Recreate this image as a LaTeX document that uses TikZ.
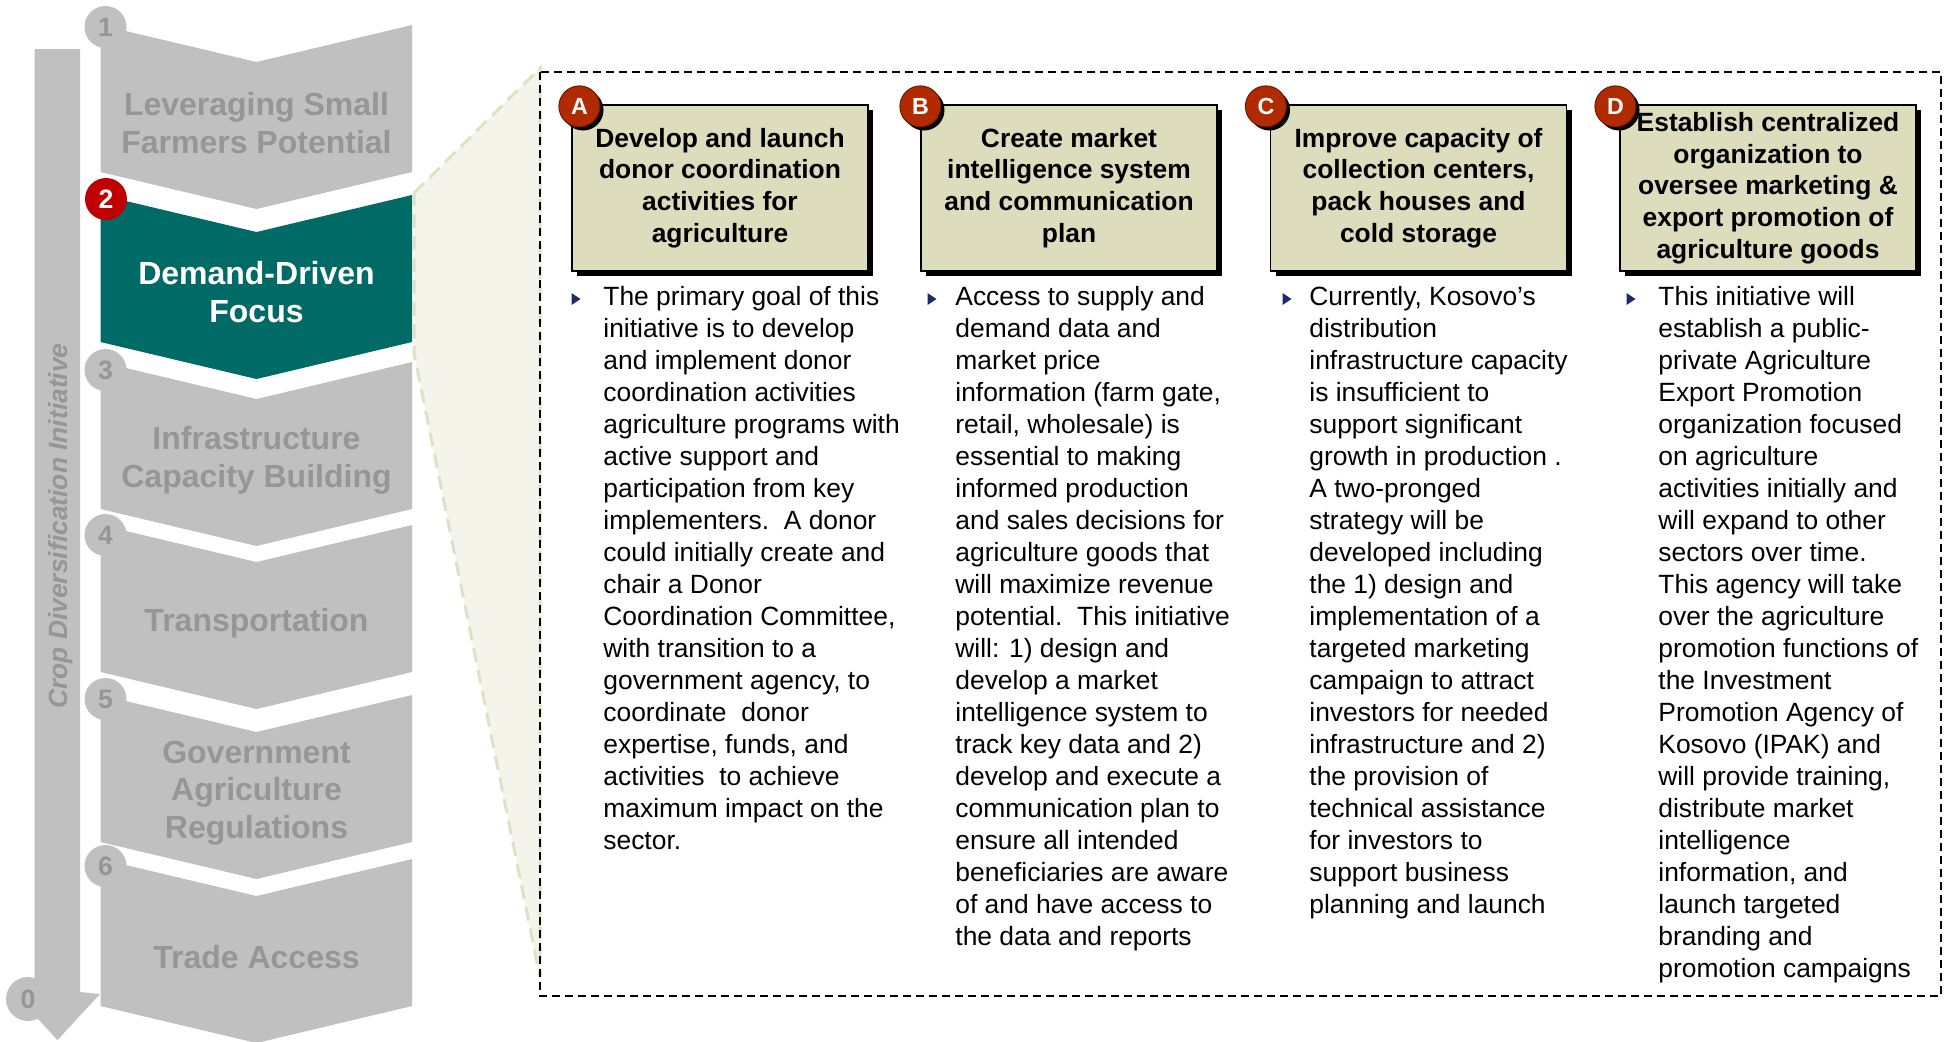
\documentclass[tikz,border=0pt]{standalone}
\usepackage{fontspec}
\setmainfont{Liberation Sans}
\usepackage{tikz}
\usetikzlibrary{positioning,shadows}
\usepackage{xcolor}
\definecolor{chevgray}{RGB}{192,192,192}
\definecolor{chevink}{RGB}{150,150,150}
\definecolor{tealchev}{RGB}{0,106,102}
\definecolor{dotred}{RGB}{192,0,0}
\definecolor{letterred}{RGB}{178,42,0}
\definecolor{boxtan}{RGB}{221,221,190}
\definecolor{calloutfill}{RGB}{244,244,234}
\definecolor{calloutline}{RGB}{224,224,196}
\definecolor{bulletnavy}{RGB}{31,42,107}
\tikzset{
  shadowed/.style={general shadow={fill=black, shadow xshift=#1, shadow yshift=-#1}},
}

\begin{document}
\begin{tikzpicture}[
  x=0.5pt, y=-0.5pt,
  chevlabel/.style={align=center, text=chevink, font=\fontsize{16}{18.9}\selectfont\bfseries},
  chevnum/.style={circle, fill=chevgray, minimum size=21pt, inner sep=0pt, text=chevink, font=\fontsize{13.3}{14}\selectfont\bfseries},
  titlebox/.style={draw=black, line width=0.6pt, fill=boxtan, minimum width=148pt, minimum height=83pt, inner sep=0pt, align=center, font=\fontsize{13.2}{15.85}\selectfont\bfseries, shadowed=2.5pt},
  letterdot/.style={circle, fill=letterred, draw=letterred!60!black, line width=0.5pt, minimum size=20.5pt, inner sep=0pt, text=white, font=\fontsize{11.6}{12}\selectfont\bfseries, shadowed=1.8pt},
  bodytext/.style={anchor=north west, inner sep=0pt, align=left, font=\fontsize{13.2}{16}\selectfont}
]
\useasboundingbox (0,0) rectangle (1946,1041);

\fill[chevgray] (34.5,49) -- (80,49) -- (80,992) -- (100,994) -- (57.5,1040) -- (15,994) -- (34.5,992) -- cycle;
\node[rotate=90, anchor=base, text=chevink, font=\fontsize{13.2}{14}\selectfont\bfseries\itshape] (axis) at (67,526) {Crop Diversification Initiative};

\foreach \n/\ty/\dy/\txt in {1/25/2/{Leveraging Small\\Farmers Potential}, 3/362/8/{Infrastructure\\Capacity Building}, 4/525/10/Transportation, 5/695/4/{Government\\Agriculture\\Regulations}, 6/859/7/Trade Access}{
  \fill[chevgray] (100.5,\ty) -- (256.5,\ty+37) -- (412,\ty) -- (412,\ty+147) -- (256.5,\ty+184) -- (100.5,\ty+147) -- cycle;
  \node[chevlabel] (c\n) at (256.5,\ty+98) {\txt};
  \node[chevnum] (n\n) at (105.5,\ty+\dy) {\n};
}

\fill[tealchev] (100.5,195) -- (256.5,232) -- (412,195) -- (412,342) -- (256.5,379) -- (100.5,342) -- cycle;
\node[chevlabel, text=white] (c2) at (256.5,292) {Demand-Driven\\Focus};
\node[chevnum, fill=dotred, text=white] (n2) at (106,199) {2};
\node[chevnum, minimum size=22pt] (n0) at (28,999) {0};

\filldraw[fill=calloutfill, draw=calloutline, line width=1.5pt, dash pattern=on 7pt off 4pt] (414,193) -- (540,68) -- (540,977) -- (414,353) -- cycle;
\draw[line width=1pt, dash pattern=on 4pt off 2.5pt] (540,72) rectangle (1941,996);

\node[titlebox] (bA) at (720,188) {Develop and launch\\donor coordination\\activities for\\agriculture};
\node[titlebox] (bB) at (1069,188) {Create market\\intelligence system\\and communication\\plan};
\node[titlebox] (bC) at (1418.5,188) {Improve capacity of\\collection centers,\\pack houses and\\cold storage};
\node[titlebox] (bD) at (1768,188) {Establish centralized\\organization to\\oversee marketing \&\\export promotion of\\agriculture goods};

\node[letterdot] (lA) at (bA.north west) [xshift=4pt, yshift=-1pt] {A};
\node[letterdot] (lB) at (bB.north west) [yshift=-1pt] {B};
\node[letterdot] (lC) at (bC.north west) [xshift=-2pt, yshift=-1pt] {C};
\node[letterdot] (lD) at (bD.north west) [xshift=-2pt, yshift=-1pt] {D};

\foreach \bx in {576,932,1287,1631}
  \fill[bulletnavy] (\bx-4.5,293) -- (\bx+4.5,299) -- (\bx-4.5,305) -- cycle;

\node[bodytext] (tA) at (603,286) {The primary goal of this\\initiative is to develop\\and implement donor\\coordination activities\\agriculture programs with\\active support and\\participation from key\\implementers.\ \ A donor\\could initially create and\\chair a Donor\\Coordination Committee,\\with transition to a\\government agency, to\\coordinate\ \ donor\\expertise, funds, and\\activities\ \ to achieve\\maximum impact on the\\sector.};
\node[bodytext] (tB) at (955,286) {Access to supply and\\demand data and\\market price\\information (farm gate,\\retail, wholesale) is\\essential to making\\informed production\\and sales decisions for\\agriculture goods that\\will maximize revenue\\potential.\ \ This initiative\\will: 1) design and\\develop a market\\intelligence system to\\track key data and 2)\\develop and execute a\\communication plan to\\ensure all intended\\beneficiaries are aware\\of and have access to\\the data and reports};
\node[bodytext] (tC) at (1309,286) {Currently, Kosovo’s\\distribution\\infrastructure capacity\\is insufficient to\\support significant\\growth in production .\\A two-pronged\\strategy will be\\developed including\\the 1) design and\\implementation of a\\targeted marketing\\campaign to attract\\investors for needed\\infrastructure and 2)\\the provision of\\technical assistance\\for investors to\\support business\\planning and launch};
\node[bodytext] (tD) at (1658,286) {This initiative will\\establish a public-\\private Agriculture\\Export Promotion\\organization focused\\on agriculture\\activities initially and\\will expand to other\\sectors over time.\\This agency will take\\over the agriculture\\promotion functions of\\the Investment\\Promotion Agency of\\Kosovo (IPAK) and\\will provide training,\\distribute market\\intelligence\\information, and\\launch targeted\\branding and\\promotion campaigns};

\end{tikzpicture}
\end{document}
